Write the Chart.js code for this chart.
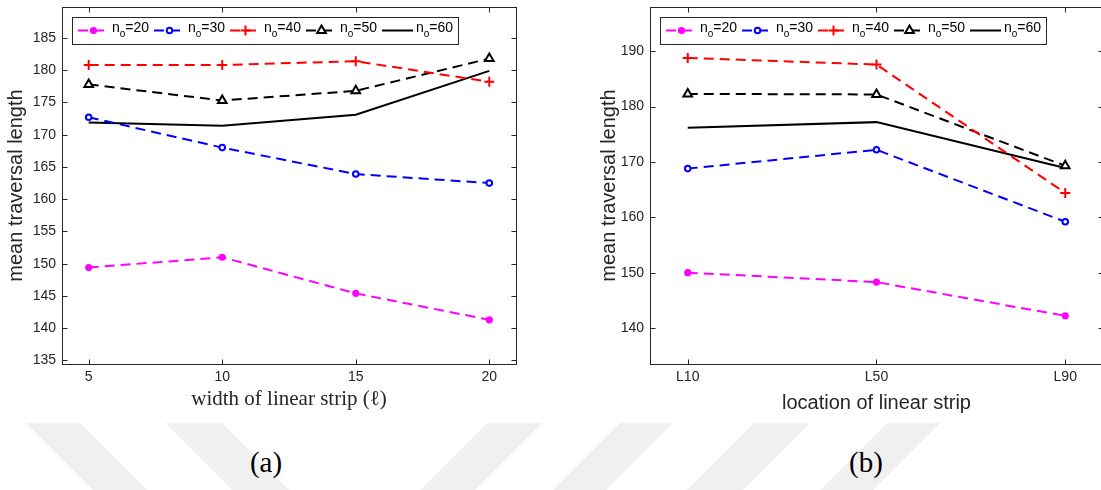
<!DOCTYPE html>
<html>
<head>
<meta charset="utf-8">
<script src="https://cdn.jsdelivr.net/npm/chart.js@4.4.1/dist/chart.umd.min.js"></script>
<style>
    body { margin: 0; width: 1101px; height: 490px; overflow: hidden; background: #fff; position: relative; }
    #wm { position: absolute; left: 0; top: 0; }
    .panel { position: absolute; top: 0; }
    .caption { position: absolute; top: 446px; width: 100px; text-align: center; font-family: 'Liberation Serif', 'Times New Roman', serif; font-size: 29px; color: #000; }
</style>
</head>
<body>
<svg id="wm" width="1101" height="490">
    <g fill="#f0f0f0">
        <polygon points="26,423 80,423 147,490 93,490"/>
        <polygon points="165,423 222,423 289,490 232,490"/>
        <polygon points="487,423 542,423 475,490 420,490"/>
        <polygon points="620,423 673,423 606,490 553,490"/>
        <polygon points="754,423 810,423 743,490 687,490"/>
        <polygon points="887,423 940,423 873,490 820,490"/>
    </g>
</svg>
<div class="panel" style="left:0; width:550px; height:425px;"><canvas id="chartA" width="550" height="425"></canvas></div>
<div class="panel" style="left:550px; width:560px; height:425px;"><canvas id="chartB" width="560" height="425"></canvas></div>
<div class="caption" style="left:216px;">(a)</div>
<div class="caption" style="left:816px;">(b)</div>

<script>
// panel (a): x = width of linear strip
const stripWidths = [5, 10, 15, 20];
const yTicksA = [135, 140, 145, 150, 155, 160, 165, 170, 175, 180, 185];
const a_no20 = [149.4, 151.0, 145.4, 141.3];
const a_no30 = [172.7, 168.0, 163.9, 162.5];
const a_no40 = [180.8, 180.8, 181.4, 178.2];
const a_no50 = [177.8, 175.3, 176.8, 181.8];
const a_no60 = [171.9, 171.4, 173.1, 179.9];

// panel (b): x = location of linear strip
const stripLocations = [1, 2, 3];
const locationLabels = ['L10', 'L50', 'L90'];
const yTicksB = [140, 150, 160, 170, 180, 190];
const b_no20 = [150.0, 148.3, 142.2];
const b_no30 = [168.8, 172.2, 159.2];
const b_no40 = [188.8, 187.6, 164.4];
const b_no50 = [182.3, 182.2, 169.3];
const b_no60 = [176.2, 177.2, 168.9];

const obstacleCounts = ['20', '30', '40', '50', '60'];

const AXIS = '#262626';
Chart.defaults.font.family = "'Liberation Sans', Arial, sans-serif";
Chart.defaults.color = AXIS;

const seriesStyles = [
    { color: '#ff00ff', dash: [10, 6], point: 'circle', radius: 2.6, fill: '#ff00ff' },
    { color: '#0000ff', dash: [10, 6], point: 'circle', radius: 2.8, fill: '#ffffff' },
    { color: '#ff0000', dash: [10, 6], point: 'cross', radius: 5, fill: '#ff0000' },
    { color: '#000000', dash: [10, 6], point: 'triangle', radius: 5, fill: '#ffffff' },
    { color: '#000000', dash: [], point: false, radius: 0, fill: '#000000' }
];

function makeDatasets(xs, seriesList) {
    return seriesList.map((vals, i) => {
        const s = seriesStyles[i];
        return {
            label: 'n_o=' + obstacleCounts[i],
            data: xs.map((x, k) => ({ x: x, y: vals[k] })),
            borderColor: s.color,
            borderWidth: 2,
            borderDash: s.dash,
            pointStyle: s.point,
            pointRadius: s.radius,
            pointBorderWidth: 2,
            pointBorderColor: s.color,
            pointBackgroundColor: s.fill,
            tension: 0,
            clip: false
        };
    });
}

// MATLAB-like box with inward ticks on all sides
const boxPlugin = {
    id: 'matlabBox',
    beforeDatasetsDraw(chart) {
        const { ctx, chartArea: a, scales: { x, y } } = chart;
        const L = Math.round(a.left) + 0.5, R = Math.round(a.right) + 0.5;
        const T = Math.round(a.top) + 0.5, B = Math.round(a.bottom) + 0.5;
        ctx.save();
        ctx.strokeStyle = AXIS;
        ctx.lineWidth = 1;
        ctx.strokeRect(L, T, R - L, B - T);
        ctx.beginPath();
        x.ticks.forEach(t => {
            const px = Math.round(x.getPixelForValue(t.value)) + 0.5;
            ctx.moveTo(px, B); ctx.lineTo(px, B - 5);
            ctx.moveTo(px, T); ctx.lineTo(px, T + 5);
        });
        y.ticks.forEach(t => {
            const py = Math.round(y.getPixelForValue(t.value)) + 0.5;
            ctx.moveTo(L, py); ctx.lineTo(L + 5, py);
            ctx.moveTo(R, py); ctx.lineTo(R - 5, py);
        });
        ctx.stroke();
        ctx.restore();
    }
};

// boxed legend with subscript "o"
const legendPlugin = {
    id: 'subLegend',
    afterDraw(chart) {
        const { ctx, chartArea: a } = chart;
        const x0 = Math.round(a.left) + 10, y0 = Math.round(a.top) + 10;
        const w = 386, h = 27;
        ctx.save();
        ctx.fillStyle = '#fff';
        ctx.fillRect(x0, y0, w, h);
        ctx.strokeStyle = AXIS;
        ctx.lineWidth = 1;
        ctx.strokeRect(x0 + 0.5, y0 + 0.5, w, h);

        chart.data.datasets.forEach((ds, i) => {
            const sx = x0 + 6 + i * 76;
            const cy = y0 + 13.5;
            ctx.strokeStyle = ds.borderColor;
            ctx.lineWidth = 2;
            ctx.setLineDash(ds.borderDash);
            ctx.beginPath();
            ctx.moveTo(sx, cy); ctx.lineTo(sx + 31, cy);
            ctx.stroke();
            ctx.setLineDash([]);
            if (ds.pointStyle) {
                ctx.fillStyle = ds.pointBackgroundColor;
                ctx.strokeStyle = ds.pointBorderColor;
                Chart.helpers.drawPoint(ctx, {
                    pointStyle: ds.pointStyle, radius: ds.pointRadius,
                    borderWidth: ds.pointBorderWidth, rotation: 0
                }, sx + 15.5, cy);
            }
            const parts = ds.label.split('_o');
            let tx = sx + 34;
            const base = y0 + 14.5;
            ctx.fillStyle = '#000';
            ctx.textBaseline = 'alphabetic';
            ctx.textAlign = 'left';
            ctx.font = "14px 'Liberation Sans', Arial, sans-serif";
            ctx.fillText(parts[0], tx, base);
            tx += ctx.measureText(parts[0]).width;
            ctx.font = "10px 'Liberation Sans', Arial, sans-serif";
            ctx.fillText('o', tx, base + 5);
            tx += ctx.measureText('o').width;
            ctx.font = "14px 'Liberation Sans', Arial, sans-serif";
            ctx.fillText(parts[1], tx, base);
        });
        ctx.restore();
    }
};

function buildChart(id, opts) {
    return new Chart(document.getElementById(id), {
        type: 'line',
        data: { datasets: opts.datasets },
        options: {
            responsive: false,
            animation: false,
            devicePixelRatio: 1,
            layout: { padding: { left: 0, top: 5, right: opts.padRight, bottom: 0 } },
            plugins: { legend: { display: false }, tooltip: { enabled: false } },
            scales: {
                x: {
                    type: 'linear',
                    min: opts.xMin, max: opts.xMax,
                    grid: { display: false, drawTicks: false },
                    border: { display: false },
                    afterBuildTicks: s => { s.ticks = opts.xTicks.map(v => ({ value: v })); },
                    afterFit: s => { s.height = 61; s.paddingLeft = 0; s.paddingRight = 0; },
                    ticks: { font: { size: 14 }, padding: 5, color: AXIS, maxRotation: 0, callback: opts.xLabel },
                    title: { display: true, text: opts.xTitle, font: opts.xTitleFont, color: AXIS, padding: { top: 0, bottom: opts.xTitlePad } }
                },
                y: {
                    type: 'linear',
                    min: opts.yMin, max: opts.yMax,
                    grid: { display: false, drawTicks: false },
                    border: { display: false },
                    afterBuildTicks: s => { s.ticks = opts.yTicks.map(v => ({ value: v })); },
                    afterFit: s => { s.width = opts.yWidth; s.paddingTop = 0; s.paddingBottom = 0; },
                    ticks: { font: { size: 14 }, padding: 6, color: AXIS },
                    title: { display: true, text: 'mean traversal length', font: { size: 20 }, color: AXIS, padding: { top: opts.yTitlePad, bottom: 0 } }
                }
            }
        },
        plugins: [boxPlugin, legendPlugin]
    });
}

buildChart('chartA', {
    datasets: makeDatasets(stripWidths, [a_no20, a_no30, a_no40, a_no50, a_no60]),
    xMin: 4, xMax: 21, xTicks: stripWidths,
    xLabel: v => String(v),
    xTitle: 'width of linear strip (\u2113)',
    xTitleFont: { family: "'Liberation Serif', 'Times New Roman', serif", size: 21 },
    xTitlePad: 13,
    yMin: 134.45, yMax: 189.8, yTicks: yTicksA,
    yWidth: 62, yTitlePad: 4, padRight: 34
});

buildChart('chartB', {
    datasets: makeDatasets(stripLocations, [b_no20, b_no30, b_no40, b_no50, b_no60]),
    xMin: 0.8, xMax: 3.2, xTicks: stripLocations,
    xLabel: v => locationLabels[stripLocations.indexOf(v)],
    xTitle: 'location of linear strip',
    xTitleFont: { size: 20 },
    xTitlePad: 10,
    yMin: 133.5, yMax: 198, yTicks: yTicksB,
    yWidth: 100, yTitlePad: 47, padRight: 6
});
</script>
</body>
</html>
